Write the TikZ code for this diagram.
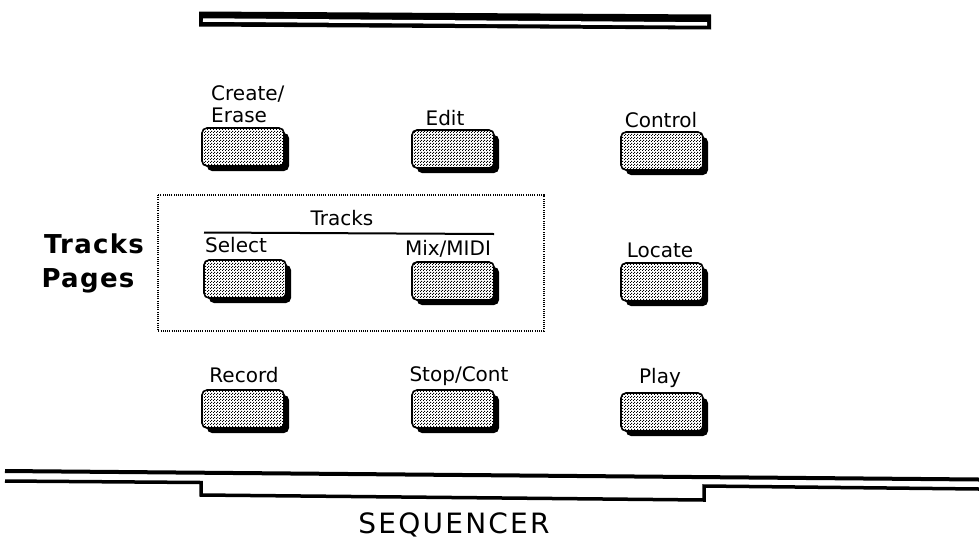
\documentclass[tikz,border=0pt]{standalone}
\usepackage{fontspec}
\setmainfont{DejaVu Sans}
\newfontfamily\spacedfont[LetterSpace=5]{DejaVu Sans}
\newfontfamily\titlefont[LetterSpace=8]{DejaVu Sans}
\usepackage{tikz}
\usetikzlibrary{patterns,shadows}
\definecolor{ink}{HTML}{000000}
\pgfdeclarepatternformonly{keydots}{\pgfqpoint{0pt}{0pt}}{\pgfqpoint{3pt}{3pt}}{\pgfqpoint{3pt}{3pt}}{%
  \pgfpathrectangle{\pgfqpoint{0pt}{0pt}}{\pgfqpoint{1.3pt}{1.3pt}}%
  \pgfpathrectangle{\pgfqpoint{1.5pt}{1.5pt}}{\pgfqpoint{1.3pt}{1.3pt}}%
  \pgfusepath{fill}}

\begin{document}
\begin{tikzpicture}[x=1pt, y=-1pt,
    key/.style={draw=ink, line width=1.6pt, rounded corners=5pt,
      minimum width=82pt, minimum height=38pt, inner sep=0pt,
      drop shadow={shadow xshift=5pt, shadow yshift=-5pt, fill=ink, opacity=1},
      preaction={fill=white}, pattern=keydots, pattern color=ink},
    keylabel/.style={font=\fontsize{20}{22}\selectfont, anchor=base, inner sep=0pt},
    pagelabel/.style={font=\spacedfont\bfseries\fontsize{26}{28}\selectfont, anchor=base, inner sep=0pt}]
  \useasboundingbox (0,0) rectangle (979,541);

  % top bar
  \fill[ink] (199,11.5) -- (711,14.5) -- (711,29.5) -- (199,26.5) -- cycle;
  \draw[white, line width=3.5pt] (203,20) -- (707,24);

  % keys
  \foreach \name/\x/\y in {create/243/147, edit/453/149, control/662/151,
      select/245/279, mix/453/281, locate/662/282,
      record/243/409, stop/453/409, play/662/412} {
    \node[key] (\name) at (\x,\y) {};
  }

  \node[keylabel, anchor=base west] (createlbl) at (211,100) {Create/};
  \node[keylabel, anchor=base west] (eraselbl) at (211,122) {Erase};
  \node[keylabel] (editlbl) at (445,125) {Edit};
  \node[keylabel] (controllbl) at (661,127) {Control};
  \node[keylabel, anchor=base west] (selectlbl) at (205,252) {Select};
  \node[keylabel] (mixlbl) at (448,255) {Mix/MIDI};
  \node[keylabel] (locatelbl) at (660,257) {Locate};
  \node[keylabel] (recordlbl) at (244,382) {Record};
  \node[keylabel] (stoplbl) at (459,381) {Stop/Cont};
  \node[keylabel] (playlbl) at (660,383) {Play};

  % tracks group
  \draw[ink, dash pattern=on 1pt off 1.2pt, line width=1.2pt] (158,195) rectangle (544,331);
  \node[keylabel] (trackslbl) at (342,225) {Tracks};
  \draw[ink, line width=2pt] (204,232.5) -- (494,234);
  \node[pagelabel] (trackspage) at (94,253) {Tracks};
  \node[pagelabel] (pagespage) at (88,287) {Pages};

  % base of the panel
  \draw[ink, line width=4pt] (5,471) -- (979,479.5);
  \draw[ink, line width=3.5pt] (5,481) -- (201,482.5) -- (201,495) -- (704,500) -- (704,486) -- (979,489);
  \node[font=\titlefont\fontsize{28}{30}\selectfont, anchor=base, inner sep=0pt] (seqlbl) at (454,533) {SEQUENCER};
\end{tikzpicture}
\end{document}
